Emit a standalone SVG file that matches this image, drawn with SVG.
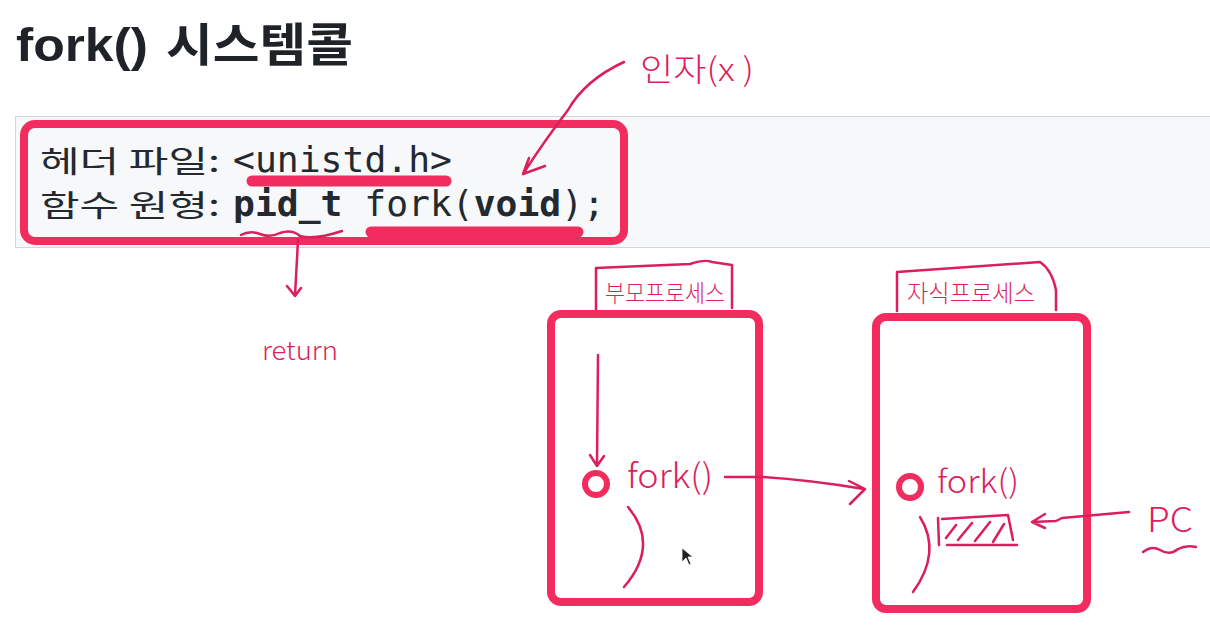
<svg xmlns="http://www.w3.org/2000/svg" width="1210" height="634" viewBox="0 0 1210 634">
<style>
.title{font-family:"Liberation Sans","Noto Sans CJK KR",sans-serif;font-weight:bold;font-size:46px;fill:#1f2328}
.code{font-family:"DejaVu Sans Mono","Liberation Mono","Noto Sans CJK KR",monospace;font-size:35px;fill:#24292f}
.kr{font-family:"Noto Sans CJK KR",sans-serif;font-size:30px;fill:#24292f}
.box{fill:none;stroke:#f22c5e;stroke-width:8}
.bar{stroke:#f22c5e;stroke-width:11;stroke-linecap:round;fill:none}
.ink{fill:none;stroke:#dc1f5c;stroke-width:2.5;stroke-linecap:round;stroke-linejoin:round}
.hand{font-family:"Noto Sans CJK KR",sans-serif;font-weight:300;fill:#dc1f5c}
</style>
<rect width="1210" height="634" fill="#ffffff"/>
<g id="title">
<text class="title" x="16" y="61" textLength="132" lengthAdjust="spacingAndGlyphs">fork()</text>
<text class="title" x="166" y="61" textLength="187" lengthAdjust="spacingAndGlyphs">시스템콜</text>
</g>
<g id="code-block">
<rect x="15.5" y="116.5" width="1200" height="131" fill="#f6f8fa" stroke="#d0d7de" stroke-width="1"/>
<text class="kr" x="40" y="172" textLength="180" lengthAdjust="spacingAndGlyphs">헤더 파일:</text>
<text class="code" x="233" y="172" textLength="219" lengthAdjust="spacingAndGlyphs">&lt;unistd.h&gt;</text>
<text class="kr" x="40" y="216" textLength="180" lengthAdjust="spacingAndGlyphs">함수 원형:</text>
<text class="code" x="233" y="216" textLength="372" lengthAdjust="spacingAndGlyphs"><tspan font-weight="bold">pid_t</tspan> fork(<tspan font-weight="bold">void</tspan>);</text>
<rect class="box" x="24" y="124" width="600" height="117" rx="11"/>
<line class="bar" x1="252" y1="181" x2="446" y2="181"/>
<line class="bar" x1="371" y1="232" x2="578" y2="232"/>
</g>
<g id="arg-note">
<text class="hand" x="640" y="81" font-size="32" textLength="114" lengthAdjust="spacingAndGlyphs">인자(x )</text>
</g>
<g id="return-note">
<text class="hand" x="262" y="360" font-size="26" textLength="76" lengthAdjust="spacingAndGlyphs">return</text>
</g>
<g id="parent-process">
<path class="ink" d="M596 311 L596 268 L690 264 Q705 259 712 262 L732 265 L732 308"/>
<text class="hand" x="605" y="302" font-size="24" textLength="120" lengthAdjust="spacingAndGlyphs">부모프로세스</text>
<rect class="box" x="551" y="314" width="208" height="288" rx="10"/>
<circle cx="596" cy="484" r="11" fill="none" stroke="#f22c5e" stroke-width="6"/>
<text class="hand" x="627" y="488" font-size="34" textLength="86" lengthAdjust="spacingAndGlyphs">fork()</text>
<path class="ink" d="M628 507 Q660 545 624 587"/>
<path d="M682 548 L682 562 L686 558 L689 565 L691 564 L688 557 L693 557 Z" fill="#222" stroke="#fff" stroke-width="0.8"/>
</g>
<g id="child-process">
<path class="ink" d="M897 311 L897 272 L1040 262 Q1052 270 1056 290 L1056 310"/>
<text class="hand" x="907" y="302" font-size="24" textLength="128" lengthAdjust="spacingAndGlyphs">자식프로세스</text>
<rect class="box" x="876" y="317" width="211" height="292" rx="10"/>
<circle cx="910" cy="487" r="11" fill="none" stroke="#f22c5e" stroke-width="6"/>
<text class="hand" x="937" y="493" font-size="32" textLength="82" lengthAdjust="spacingAndGlyphs">fork()</text>
<path class="ink" d="M920 517 Q942 552 913 592"/>
<path class="ink" d="M939 545 L938 518 M942 519 L1008 515 L1013 540 M947 545 L1017 545 M946 538 L956 525 M958 540 L972 523 M975 541 L990 522 M993 542 L1004 524"/>
</g>
<g id="pc-label">
<text class="hand" x="1147" y="532" font-size="34" textLength="46" lengthAdjust="spacingAndGlyphs">PC</text>
<path class="ink" d="M1143 552 Q1152 545 1160 550 Q1170 556 1178 549 Q1186 545 1196 547"/>
</g>
<g id="connectors">
<path class="ink" d="M241 235 Q250 230 260 234 Q270 238 280 233 Q292 229 300 236 Q315 240 342 231"/>
<path class="ink" d="M298 240 L295 296 M287 286 L295 296 L301 288"/>
<path class="ink" d="M624 62 Q585 80 568 110 Q545 140 523 174 M523 174 L545 166 M523 174 L529 158"/>
<path class="ink" d="M598 355 L597 465 M590 455 L597 466 L604 456"/>
<path class="ink" d="M725 477 L763 477 Q810 480 864 489 M849 481 L865 489 L850 504"/>
<path class="ink" d="M1129 512 L1062 518 L1056 521 L1032 522 M1045 514 L1032 522 L1045 528"/>
</g>
</svg>
